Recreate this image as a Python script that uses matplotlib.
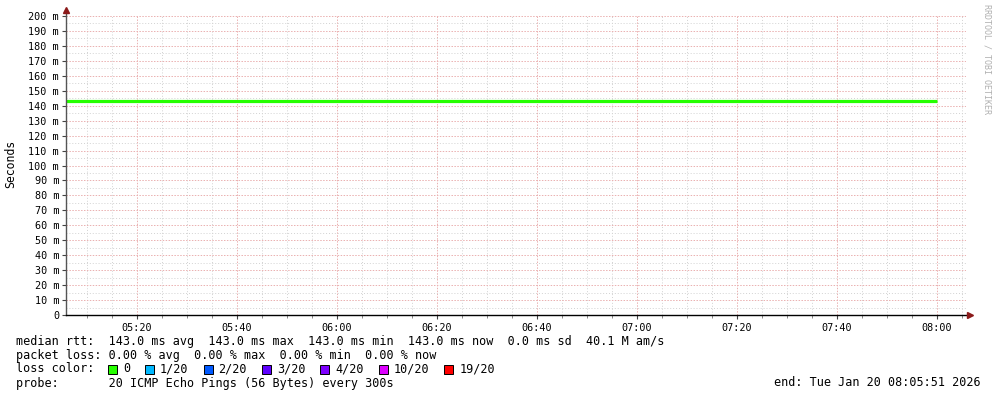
import matplotlib
matplotlib.use("Agg")
import matplotlib.pyplot as plt
from matplotlib.ticker import MultipleLocator, FuncFormatter
import numpy as np

plt.rcParams['font.family'] = 'DejaVu Sans Mono'

# ---- data (rrd style: one value per 300s step) ----
graph_start = "05:05:51"
graph_end = "08:05:51"
first_step_start = "05:05:00"
step_min = 5
median_ms = [143.0, 143.0, 143.0, 143.0, 143.0, 143.0, 143.0, 143.0, 143.0, 143.0,
             143.0, 143.0, 143.0, 143.0, 143.0, 143.0, 143.0, 143.0, 143.0, 143.0,
             143.0, 143.0, 143.0, 143.0, 143.0, 143.0, 143.0, 143.0, 143.0, 143.0,
             143.0, 143.0, 143.0, 143.0, 143.0]
smoke_hi_ms = [143.0, 143.0, 143.0, 143.0, 143.0, 143.0, 143.0, 143.0, 143.0, 143.0,
               143.0, 143.0, 143.0, 143.0, 143.0, 143.0, 143.0, 143.0, 143.9, 143.9,
               143.0, 143.0, 143.0, 143.0, 143.0, 143.0, 143.0, 143.0, 143.0, 143.0,
               143.0, 143.0, 143.0, 143.0, 143.0]

loss_labels = ["0", "1/20", "2/20", "3/20", "4/20", "10/20", "19/20"]
loss_colors = ["#26ff00", "#00b8ff", "#0059ff", "#5e00ff", "#7e00ff", "#dd00ff", "#ff0000"]

legend_median = "median rtt:  143.0 ms avg  143.0 ms max  143.0 ms min  143.0 ms now  0.0 ms sd  40.1 M am/s"
legend_loss = "packet loss: 0.00 % avg  0.00 % max  0.00 % min  0.00 % now"
legend_probe = "probe:       20 ICMP Echo Pings (56 Bytes) every 300s"
end_text = "end: Tue Jan 20 08:05:51 2026"


def to_min(s):
    h, m, sec = [int(v) for v in s.split(":")]
    return h * 60 + m + sec / 60.0


t0 = to_min(graph_start)
t1 = to_min(graph_end)
edges = to_min(first_step_start) + step_min * np.arange(len(median_ms) + 1)

# ---- figure ----
W, H = 997, 397
fig = plt.figure(figsize=(W / 100, H / 100), dpi=100)
ax = fig.add_axes([66 / W, (H - 315) / H, 900 / W, 299 / H])

ax.stairs(np.array(smoke_hi_ms) / 1000, edges, baseline=np.array(median_ms) / 1000,
          fill=True, color="#d0d0d0", lw=0, zorder=3)
ax.stairs(np.array(median_ms) / 1000, edges, baseline=None, color="#26ff00", lw=2.3, zorder=4)

ax.set_xlim(t0, t1)
ax.set_ylim(0, 0.2)

ax.yaxis.set_major_locator(MultipleLocator(0.01))
ax.yaxis.set_minor_locator(MultipleLocator(0.005))
ax.yaxis.set_major_formatter(FuncFormatter(lambda v, p: "0" if abs(v) < 1e-9 else f"{v * 1000:.0f} m"))
ax.xaxis.set_major_locator(MultipleLocator(20))
ax.xaxis.set_minor_locator(MultipleLocator(5))
ax.xaxis.set_major_formatter(FuncFormatter(lambda v, p: f"{int(round(v)) // 60:02d}:{int(round(v)) % 60:02d}"))

ax.grid(which="minor", color="#d2d2d2", linestyle=(0, (1, 2)), lw=0.7, zorder=1)
ax.grid(which="major", color="#eab0b0", linestyle=(0, (1.5, 1.5)), lw=0.7, zorder=2)

ax.tick_params(axis="both", which="major", labelsize=7.3, length=3, width=0.8, color="#444444", pad=2)
ax.tick_params(axis="y", which="minor", length=0)
ax.tick_params(axis="x", which="minor", length=2, width=0.7, color="#888888")
ax.tick_params(axis="x", which="major", pad=3)

for s in ["top", "right", "bottom", "left"]:
    ax.spines[s].set_visible(False)
# axis lines with arrows like rrdtool
ax.plot([0, 0], [0, 1.02], transform=ax.transAxes, clip_on=False, color="#555555", lw=1, zorder=5)
ax.plot([0, 1.0045], [0, 0], transform=ax.transAxes, clip_on=False, color="black", lw=1, zorder=5)
ax.plot([0], [1.02], transform=ax.transAxes, marker="^", ms=4, color="#8b1a1a", clip_on=False, zorder=6)
ax.plot([1.0045], [0], transform=ax.transAxes, marker=">", ms=4, color="#8b1a1a", clip_on=False, zorder=6)

ax.set_ylabel("Seconds", fontsize=8.3)
ax.yaxis.label.set_va("center")
ax.yaxis.set_label_coords(-55 / 900, 0.505)

fig.text(987 / W, 1 - 4 / H, "RRDTOOL / TOBI OETIKER", rotation=270, ha="center", va="top",
         fontsize=6, color="#b0b0b0")

# ---- legend block ----
fs = 8.45
cw = 7.1
fig.text(16 / W, 1 - 341 / H, legend_median, fontsize=fs, va="center")
fig.text(16 / W, 1 - 355 / H, legend_loss, fontsize=fs, va="center")
fig.text(16 / W, 1 - 369 / H, "loss color:", fontsize=fs, va="center")
fig.text(16 / W, 1 - 383 / H, legend_probe, fontsize=fs, va="center")
fig.text(981 / W, 1 - 383 / H, end_text, fontsize=fs, va="center", ha="right")

x = 108
for lab, col in zip(loss_labels, loss_colors):
    fig.patches.append(plt.Rectangle((x / W, 1 - 374 / H), 9 / W, 9 / H, transform=fig.transFigure,
                                     facecolor=col, edgecolor="black", lw=0.7))
    fig.text((x + 15) / W, 1 - 369 / H, lab, fontsize=fs, va="center")
    x = x + 15 + len(lab) * cw + 15

fig.savefig("out.png", dpi=100, facecolor="white")
